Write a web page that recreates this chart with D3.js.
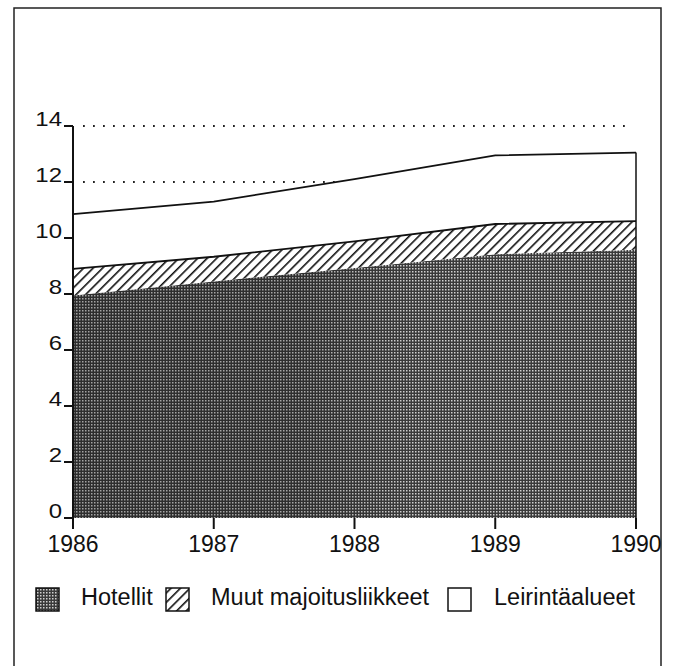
<!DOCTYPE html>
<html>
<head>
<meta charset="utf-8">
<script src="https://cdn.jsdelivr.net/npm/d3@7"></script>
<style>
  body { margin: 0; background: #fff; }
  text { font-family: "Liberation Sans", Arial, sans-serif; fill: #111; }
</style>
</head>
<body>
<div id="plot"></div>
<script>
// data (stacked layers)
const years = [1986, 1987, 1988, 1989, 1990];
const hotellit = [7.95, 8.45, 8.93, 9.42, 9.58];
const muut = [0.95, 0.88, 0.95, 1.08, 1.02];
const leirinta = [1.95, 1.97, 2.22, 2.45, 2.45];
const yTicks = [0, 2, 4, 6, 8, 10, 12, 14];
const gridTicks = [12, 14];
const seriesNames = ["Hotellit", "Muut majoitusliikkeet", "Leirintäalueet"];

const W = 676, H = 666;

const svg = d3.select("div#plot")
  .append("svg")
  .attr("width", W)
  .attr("height", H);

// patterns
const defs = svg.append("defs");

const dots = defs.append("pattern")
  .attr("id", "dots")
  .attr("patternUnits", "userSpaceOnUse")
  .attr("width", 3)
  .attr("height", 3);
dots.append("rect").attr("width", 3).attr("height", 3).attr("fill", "#3a3a3a");
dots.append("rect").attr("x", 1).attr("y", 1).attr("width", 1.5).attr("height", 1.5).attr("fill", "#d0d0d0");

const hatch = defs.append("pattern")
  .attr("id", "hatch")
  .attr("patternUnits", "userSpaceOnUse")
  .attr("width", 6.7)
  .attr("height", 6.7)
  .attr("patternTransform", "rotate(45)");
hatch.append("rect").attr("width", 6.7).attr("height", 6.7).attr("fill", "#fff");
hatch.append("line")
  .attr("x1", 0).attr("y1", 0).attr("x2", 0).attr("y2", 6.7)
  .attr("stroke", "#111").attr("stroke-width", 3.2);

// the scan is darker on the left half of the hotel area
const shade = defs.append("linearGradient")
  .attr("id", "shade")
  .attr("x1", 0).attr("x2", 1).attr("y1", 0).attr("y2", 0);
shade.append("stop").attr("offset", "0").attr("stop-color", "#000").attr("stop-opacity", 0.22);
shade.append("stop").attr("offset", "0.4").attr("stop-color", "#000").attr("stop-opacity", 0.2);
shade.append("stop").attr("offset", "0.6").attr("stop-color", "#000").attr("stop-opacity", 0.0);
shade.append("stop").attr("offset", "1").attr("stop-color", "#000").attr("stop-opacity", 0.0);

const fills = ["url(#dots)", "url(#hatch)", "#fff"];

// outer frame
svg.append("rect")
  .attr("x", 14).attr("y", 8)
  .attr("width", 647).attr("height", 670)
  .attr("fill", "none")
  .attr("stroke", "#222")
  .attr("stroke-width", 1.5);

// scales
const x = d3.scaleLinear().domain([1986, 1990]).range([73, 636]);
const y = d3.scaleLinear().domain([0, 14]).range([518, 126]);

// dotted gridlines (hidden behind the areas where they cross)
svg.selectAll(".grid")
  .data(gridTicks)
  .enter()
  .append("line")
  .attr("class", "grid")
  .attr("x1", x(1986) + 10)
  .attr("x2", x(1990) - 6)
  .attr("y1", d => y(d))
  .attr("y2", d => y(d))
  .attr("stroke", "#222")
  .attr("stroke-width", 1.8)
  .attr("stroke-dasharray", "1.8 8.2");

// stacked areas
const table = years.map((yr, i) => ({ year: yr, h: hotellit[i], m: muut[i], l: leirinta[i] }));
const stack = d3.stack().keys(["h", "m", "l"]);
const layers = stack(table);

const area = d3.area()
  .x(d => x(d.data.year))
  .y0(d => y(d[0]))
  .y1(d => y(d[1]));

svg.selectAll(".layer")
  .data(layers)
  .enter()
  .append("path")
  .attr("class", "layer")
  .attr("d", area)
  .attr("fill", (d, i) => fills[i]);

svg.append("path")
  .attr("d", area(layers[0]))
  .attr("fill", "url(#shade)");

// outlines: top of hatch and top of campsites, plus right edge
const topLine = d3.line()
  .x(d => x(d.data.year))
  .y(d => y(d[1]));

[1, 2].forEach(k => {
  svg.append("path")
    .attr("d", topLine(layers[k]))
    .attr("fill", "none")
    .attr("stroke", "#111")
    .attr("stroke-width", 1.8);
});

const last = layers[2][years.length - 1];
svg.append("line")
  .attr("x1", x(1990)).attr("x2", x(1990))
  .attr("y1", y(last[1])).attr("y2", y(0))
  .attr("stroke", "#111")
  .attr("stroke-width", 1.5);

// y axis
svg.append("line")
  .attr("x1", x(1986)).attr("x2", x(1986))
  .attr("y1", y(14)).attr("y2", y(0) + 1)
  .attr("stroke", "#111")
  .attr("stroke-width", 2);

svg.selectAll(".ytick")
  .data(yTicks)
  .enter()
  .append("line")
  .attr("class", "ytick")
  .attr("x1", x(1986) - 9).attr("x2", x(1986))
  .attr("y1", d => y(d)).attr("y2", d => y(d))
  .attr("stroke", "#111")
  .attr("stroke-width", 2);

// y labels are drawn a bit wide in the original, so stretch them
svg.selectAll(".ylab")
  .data(yTicks)
  .enter()
  .append("text")
  .attr("class", "ylab")
  .attr("transform", d => `translate(${x(1986) - 11},${y(d)}) scale(1.2,1)`)
  .attr("text-anchor", "end")
  .style("font-size", "20px")
  .text(d => d);

// x axis ticks and labels
svg.selectAll(".xtick")
  .data(years)
  .enter()
  .append("line")
  .attr("class", "xtick")
  .attr("x1", d => x(d)).attr("x2", d => x(d))
  .attr("y1", y(0)).attr("y2", y(0) + 11)
  .attr("stroke", "#111")
  .attr("stroke-width", 2);

svg.selectAll(".xlab")
  .data(years)
  .enter()
  .append("text")
  .attr("class", "xlab")
  .attr("x", d => x(d))
  .attr("y", 552)
  .attr("text-anchor", "middle")
  .style("font-size", "23px")
  .text(d => d);

// legend
const legendItems = [
  { label: seriesNames[0], fill: fills[0], bx: 36, tx: 81 },
  { label: seriesNames[1], fill: fills[1], bx: 166, tx: 211 },
  { label: seriesNames[2], fill: fills[2], bx: 448, tx: 494 }
];

const legend = svg.append("g").attr("class", "legend");

legend.selectAll(".legend-rect")
  .data(legendItems)
  .enter()
  .append("rect")
  .attr("class", "legend-rect")
  .attr("x", d => d.bx)
  .attr("y", 588)
  .attr("width", 23)
  .attr("height", 23)
  .attr("fill", d => d.fill)
  .attr("stroke", "#111")
  .attr("stroke-width", 1.5);

legend.selectAll(".legend-text")
  .data(legendItems)
  .enter()
  .append("text")
  .attr("class", "legend-text")
  .attr("x", d => d.tx)
  .attr("y", 605)
  .style("font-size", "23.5px")
  .text(d => d.label);
</script>
</body>
</html>
